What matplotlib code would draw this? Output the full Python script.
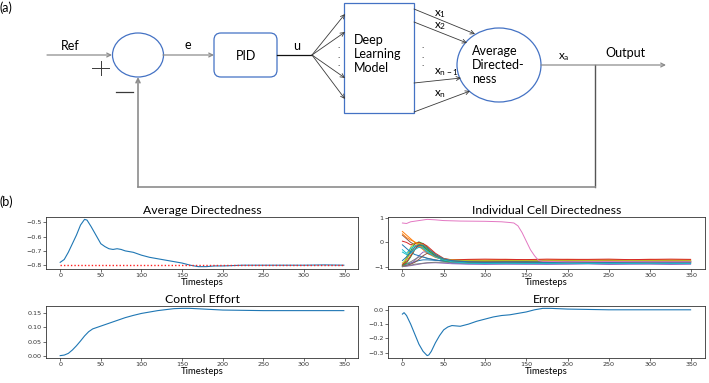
import matplotlib
matplotlib.use("Agg")
import matplotlib.pyplot as plt
from matplotlib.patches import Ellipse, FancyBboxPatch, Rectangle

# Average directedness (output) vs timesteps
avg_t = [0, 5, 10, 15, 20, 25, 30, 33, 38, 45, 50, 55, 60, 65, 70, 75, 80, 90, 100,
         110, 120, 130, 140, 150, 160, 170, 180, 190, 200, 225, 250, 275, 300, 325, 349]
avg_dir = [-0.78, -0.76, -0.71, -0.65, -0.59, -0.52, -0.48, -0.485, -0.53, -0.60, -0.65,
           -0.67, -0.685, -0.69, -0.685, -0.69, -0.70, -0.71, -0.73, -0.745, -0.755,
           -0.765, -0.775, -0.785, -0.80, -0.81, -0.81, -0.805, -0.805, -0.80, -0.80,
           -0.80, -0.80, -0.798, -0.80]
target = -0.8

# Control effort
ctrl_t = [0, 5, 10, 15, 20, 25, 30, 35, 40, 50, 60, 70, 80, 90, 100, 120, 140, 150,
          160, 180, 200, 250, 300, 349]
ctrl = [0.0, 0.002, 0.008, 0.02, 0.035, 0.052, 0.07, 0.085, 0.095, 0.105, 0.115, 0.125,
        0.135, 0.143, 0.15, 0.16, 0.167, 0.168, 0.168, 0.165, 0.162, 0.16, 0.16, 0.16]

# Error
err_t = [0, 2, 5, 10, 15, 20, 25, 30, 32, 35, 40, 45, 50, 55, 60, 70, 80, 90, 100, 110,
         120, 130, 140, 150, 160, 170, 180, 200, 250, 300, 349]
err = [-0.03, -0.02, -0.04, -0.1, -0.17, -0.24, -0.29, -0.32, -0.315, -0.29, -0.23,
       -0.18, -0.14, -0.12, -0.11, -0.115, -0.10, -0.08, -0.065, -0.05, -0.04, -0.035,
       -0.025, -0.015, 0.0, 0.01, 0.01, 0.005, 0.0, 0.0, 0.0]

# Individual cell directedness
cell_t = [0, 5, 10, 15, 20, 25, 30, 40, 50, 60, 80, 100, 125, 150, 175, 200, 225, 250,
          275, 300, 325, 349]
cells = [
    [-0.95, -0.9, -0.85, -0.8, -0.75, -0.72, -0.72, -0.74, -0.76, -0.78, -0.79, -0.8, -0.78, -0.79, -0.8, -0.79, -0.78, -0.8, -0.79, -0.78, -0.79, -0.79],
    [0.45, 0.3, 0.15, 0.0, -0.15, -0.3, -0.45, -0.62, -0.7, -0.72, -0.71, -0.72, -0.7, -0.71, -0.72, -0.7, -0.71, -0.72, -0.71, -0.7, -0.72, -0.71],
    [-1.0, -0.7, -0.35, -0.05, 0.02, -0.05, -0.2, -0.5, -0.7, -0.83, -0.84, -0.83, -0.85, -0.84, -0.83, -0.84, -0.85, -0.83, -0.84, -0.84, -0.83, -0.84],
    [0.05, 0.0, -0.1, -0.05, 0.0, -0.1, -0.25, -0.5, -0.68, -0.75, -0.76, -0.75, -0.74, -0.76, -0.75, -0.74, -0.76, -0.75, -0.76, -0.74, -0.75, -0.75],
    [-0.98, -0.95, -0.88, -0.75, -0.55, -0.4, -0.38, -0.5, -0.7, -0.86, -0.88, -0.87, -0.88, -0.89, -0.87, -0.88, -0.87, -0.89, -0.88, -0.87, -0.88, -0.88],
    [0.3, 0.15, 0.0, -0.1, -0.2, -0.2, -0.3, -0.55, -0.7, -0.77, -0.77, -0.76, -0.77, -0.78, -0.76, -0.77, -0.77, -0.76, -0.78, -0.77, -0.76, -0.77],
    [-0.92, -0.88, -0.8, -0.7, -0.6, -0.6, -0.65, -0.72, -0.78, -0.81, -0.82, -0.81, -0.8, -0.82, -0.81, -0.82, -0.8, -0.81, -0.82, -0.81, -0.82, -0.81],
    [-1.0, -0.6, -0.2, 0.0, -0.05, -0.15, -0.3, -0.55, -0.7, -0.74, -0.73, -0.74, -0.73, -0.72, -0.74, -0.73, -0.74, -0.72, -0.73, -0.74, -0.73, -0.73],
    [-0.3, -0.45, -0.25, -0.15, -0.1, -0.2, -0.35, -0.58, -0.75, -0.85, -0.86, -0.85, -0.86, -0.85, -0.87, -0.86, -0.85, -0.86, -0.85, -0.86, -0.87, -0.86],
    [-0.1, -0.25, -0.4, -0.5, -0.55, -0.6, -0.66, -0.73, -0.77, -0.79, -0.8, -0.81, -0.8, -0.8, -0.79, -0.81, -0.8, -0.8, -0.81, -0.79, -0.8, -0.8],
    [0.35, 0.2, 0.1, 0.02, -0.1, -0.25, -0.4, -0.6, -0.72, -0.76, -0.78, -0.79, -0.78, -0.77, -0.79, -0.78, -0.79, -0.78, -0.77, -0.78, -0.79, -0.78],
    [-0.95, -0.85, -0.6, -0.3, -0.1, -0.15, -0.3, -0.55, -0.75, -0.82, -0.83, -0.82, -0.83, -0.82, -0.82, -0.83, -0.82, -0.83, -0.82, -0.82, -0.83, -0.82],
    [-0.9, -0.8, -0.55, -0.3, -0.1, -0.05, -0.15, -0.45, -0.66, -0.72, -0.7, -0.69, -0.7, -0.71, -0.69, -0.7, -0.7, -0.69, -0.71, -0.7, -0.69, -0.7],
    [-1.0, -0.98, -0.96, -0.93, -0.9, -0.87, -0.85, -0.84, -0.86, -0.88, -0.9, -0.91, -0.9, -0.9, -0.91, -0.9, -0.89, -0.91, -0.9, -0.9, -0.91, -0.9],
    [-0.97, -0.95, -0.9, -0.82, -0.7, -0.55, -0.45, -0.55, -0.7, -0.76, -0.8, -0.79, -0.8, -0.81, -0.8, -0.79, -0.8, -0.8, -0.79, -0.81, -0.8, -0.8],
    [-0.99, -0.97, -0.94, -0.9, -0.88, -0.86, -0.84, -0.82, -0.82, -0.83, -0.85, -0.84, -0.84, -0.85, -0.84, -0.84, -0.85, -0.84, -0.84, -0.85, -0.84, -0.84],
    [-0.85, -0.7, -0.45, -0.2, -0.05, -0.1, -0.25, -0.5, -0.68, -0.73, -0.75, -0.76, -0.75, -0.75, -0.76, -0.75, -0.75, -0.76, -0.75, -0.75, -0.76, -0.75],
    [-0.4, -0.5, -0.45, -0.3, -0.2, -0.25, -0.4, -0.6, -0.73, -0.8, -0.86, -0.87, -0.86, -0.87, -0.86, -0.86, -0.87, -0.86, -0.87, -0.86, -0.86, -0.87],
    [-0.75, -0.6, -0.4, -0.2, -0.1, -0.12, -0.25, -0.5, -0.68, -0.75, -0.8, -0.82, -0.81, -0.81, -0.82, -0.81, -0.81, -0.82, -0.81, -0.81, -0.82, -0.81],
]
cell_colors = ["#1f77b4", "#ff7f0e", "#2ca02c", "#d62728", "#9467bd", "#8c564b",
               "#7f7f7f", "#bcbd22", "#17becf", "#1f77b4", "#ff7f0e", "#2ca02c",
               "#d62728", "#9467bd", "#8c564b", "#7f7f7f", "#bcbd22", "#17becf", "#1f77b4"]
pink_t = [0, 5, 10, 20, 30, 40, 50, 70, 100, 120, 130, 135, 140, 145, 150, 155, 160,
          165, 170, 200, 250, 300, 349]
pink = [0.8, 0.78, 0.85, 0.9, 0.95, 0.93, 0.9, 0.88, 0.87, 0.85, 0.82, 0.8, 0.68, 0.4,
        0.05, -0.3, -0.55, -0.75, -0.78, -0.8, -0.79, -0.8, -0.8]

TXT = "Lato"
W, H = 709, 383
fig = plt.figure(figsize=(W / 100, H / 100), dpi=100)

# ---- (a) block diagram, drawn in pixel coordinates ----
d = fig.add_axes([0, 0, 1, 1])
d.set_xlim(0, W)
d.set_ylim(H, 0)
d.axis("off")

BLUE = "#4472c4"
GRAY = "#8c8c8c"
DARK = "#3a3a3a"


def arrow(x0, y0, x1, y1, c=GRAY, lw=0.9):
    d.annotate("", xy=(x1, y1), xytext=(x0, y0),
               arrowprops=dict(arrowstyle="->", color=c, lw=lw, shrinkA=0, shrinkB=0,
                               mutation_scale=7))


def label(x, y, s, size=9, ha="center"):
    d.text(x, y, s, fontsize=size, family=TXT, ha=ha, va="center", color="black")


d.text(0, 8, "(a)", fontsize=9, family=TXT, va="center")
d.text(0, 202, "(b)", fontsize=9, family=TXT, va="center")

arrow(47, 55, 112, 55)
label(70, 46, "Ref")
d.plot([92, 109], [68, 68], color=DARK, lw=0.7)
d.plot([100.5, 100.5], [61, 75], color=DARK, lw=0.7)
d.plot([116, 133], [92, 92], color=DARK, lw=0.9)

d.add_patch(Ellipse((138, 55), 51, 44, fill=False, ec=BLUE, lw=0.9))
arrow(163, 55, 214, 55)
label(188, 45, "e")
d.add_patch(FancyBboxPatch((214, 33), 63, 44, boxstyle="round,pad=0,rounding_size=7",
                           fill=False, ec=BLUE, lw=0.9))
label(246, 56, "PID")
d.plot([277, 312], [55, 55], color="#111111", lw=0.9)
label(297, 46, "u")
for y in [14, 32, 78, 99]:
    arrow(312, 55, 345, y, c=DARK, lw=0.6)
for y in [46, 55, 64]:
    label(339, y, ".", size=7)

d.add_patch(Rectangle((344, 3), 70, 110, fill=False, ec=BLUE, lw=0.9))
for y, s in zip([40, 54, 68], ["Deep", "Learning", "Model"]):
    label(354, y, s, ha="left")

for (x0, y0, x1, y1) in [(414, 9, 475, 34), (414, 22, 467, 43), (414, 83, 461, 78),
                         (414, 112, 470, 91)]:
    arrow(x0, y0, x1, y1, c=DARK, lw=0.6)
label(440, 14, r"$\mathregular{x_1}$", size=8.5)
label(440, 26, r"$\mathregular{x_2}$", size=8.5)
label(446, 72, r"$\mathregular{x_{n-1}}$", size=8.5)
label(440, 94, r"$\mathregular{x_n}$", size=8.5)
for y in [46, 55, 64]:
    label(423, y, ".", size=7)

d.add_patch(Ellipse((499, 65), 84, 74, fill=False, ec=BLUE, lw=0.9))
for y, s in zip([51, 65, 79], ["Average", "Directed-", "ness"]):
    label(472, y, s, ha="left")
arrow(541, 65, 666, 65)
label(564, 57, r"$\mathregular{x_a}$", size=8.5)
label(625, 53, "Output")

d.plot([595, 595], [65, 187], color="#555555", lw=1.0)
d.plot([138, 595], [187, 187], color=GRAY, lw=1.2)
arrow(138, 187, 138, 77, lw=1.2)

# ---- (b) time series panels ----
def panel(rect, title):
    ax = fig.add_axes(rect)
    ax.set_title(title, fontsize=8.8, family=TXT, pad=2, color="black")
    ax.set_xlabel("Timesteps", fontsize=6.8, family=TXT, labelpad=0, color="black")
    ax.tick_params(labelsize=4.6, length=2, width=0.5, pad=1, colors="#333333")
    for s in ax.spines.values():
        s.set_linewidth(0.6)
        s.set_color("#333333")
    ax.set_xticks([0, 50, 100, 150, 200, 250, 300, 350])
    return ax


ax1 = panel([46 / W, 1 - 269 / H, 312 / W, 52 / H], "Average Directedness")
ax1.plot(avg_t, avg_dir, color="#1f77b4", lw=0.8)
ax1.plot([0, 349], [target, target], color="#ff2020", lw=1.0, ls=(0, (1, 1.5)))
ax1.set_yticks([-0.8, -0.7, -0.6, -0.5])

ax2 = panel([388 / W, 1 - 269 / H, 317 / W, 52 / H], "Individual Cell Directedness")
for vals, c in zip(cells, cell_colors):
    ax2.plot(cell_t, vals, color=c, lw=0.7)
ax2.plot(pink_t, pink, color="#e377c2", lw=0.7)
ax2.set_yticks([-1, 0, 1])

ax3 = panel([46 / W, 1 - 358 / H, 312 / W, 52 / H], "Control Effort")
ax3.plot(ctrl_t, ctrl, color="#1f77b4", lw=0.8)
ax3.set_yticks([0.0, 0.05, 0.10, 0.15])
ax3.set_yticklabels(["0.00", "0.05", "0.10", "0.15"])

ax4 = panel([388 / W, 1 - 358 / H, 317 / W, 52 / H], "Error")
ax4.plot(err_t, err, color="#1f77b4", lw=0.8)
ax4.set_yticks([-0.3, -0.2, -0.1, 0.0])

fig.savefig("out.png", dpi=100)
